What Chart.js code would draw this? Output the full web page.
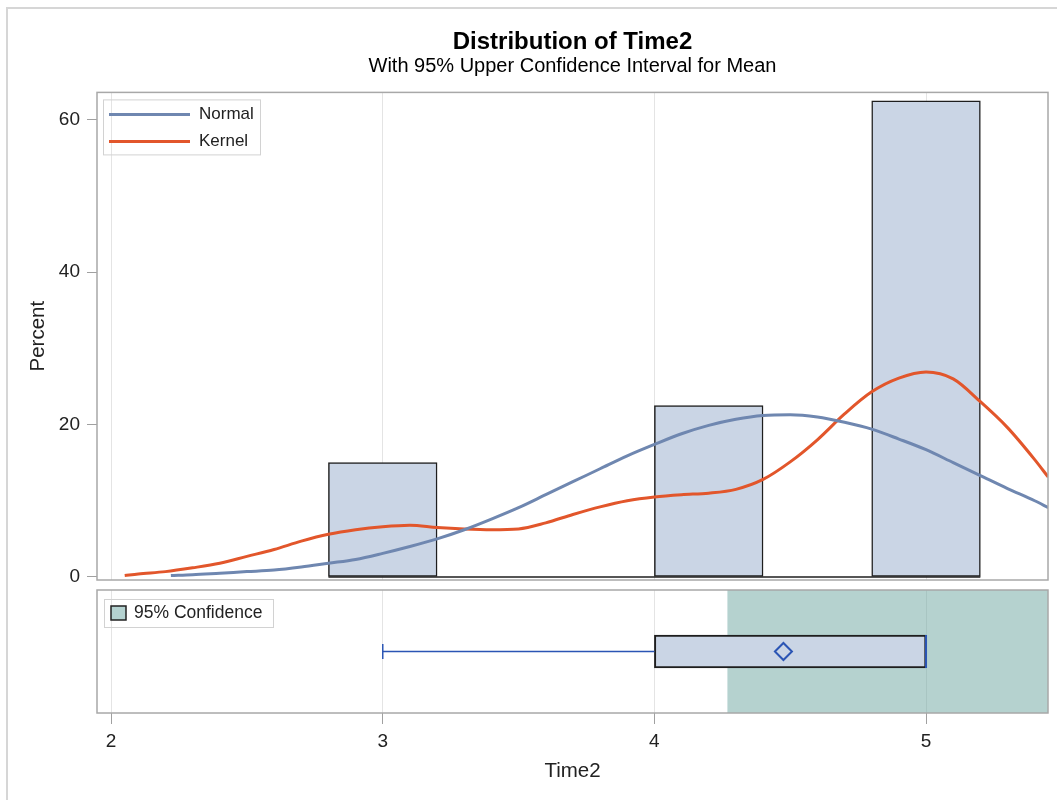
<!DOCTYPE html>
<html>
<head>
<meta charset="utf-8">
<title>Distribution of Time2</title>
<script src="https://cdn.jsdelivr.net/npm/chart.js@4.4.1/dist/chart.umd.min.js"></script>
<style>
  html, body { margin: 0; padding: 0; background: #fff; }
  #wrap { position: relative; width: 1057px; height: 800px; overflow: hidden; }
  #outline { position: absolute; left: 6px; top: 7px; width: 1200px; height: 900px;
             border-top: 2px solid #d6d6d6; border-left: 2px solid #d6d6d6; }
  canvas { position: absolute; left: 0; top: 0; }
</style>
</head>
<body>
<div id="wrap">
  <div id="outline"></div>
  <canvas id="hist" width="1057" height="800"></canvas>
  <canvas id="box" width="1057" height="800"></canvas>
</div>
<script>
// histogram bins (midpoints, width 0.4) and percents
const binCenters = [3.0, 3.4, 3.8, 4.2, 4.6, 5.0]
const binPercents = [15, 0, 0, 22.5, 0, 62.5]
const binWidth = 0.4

// fitted normal curve
const normalX = [2.22, 2.3, 2.4, 2.5, 2.6, 2.7, 2.8, 2.9, 3.0, 3.1, 3.2, 3.3, 3.4, 3.5, 3.6, 3.7, 3.8, 3.9,
                 4.0, 4.1, 4.2, 4.3, 4.4, 4.5, 4.6, 4.7, 4.8, 4.9, 5.0, 5.1, 5.2, 5.3, 5.4, 5.45]
const normalY = [0.2, 0.3, 0.5, 0.7, 0.9, 1.3, 1.8, 2.3, 3.1, 4.0, 5.0, 6.2, 7.6, 9.1, 10.8, 12.5, 14.2, 15.9,
                 17.4, 18.8, 19.9, 20.7, 21.2, 21.3, 21.0, 20.3, 19.4, 18.1, 16.7, 15.0, 13.3, 11.6, 10.0, 9.1]

// kernel density curve
const kernelX = [2.05, 2.1, 2.2, 2.3, 2.4, 2.5, 2.6, 2.7, 2.8, 2.9, 3.0, 3.1, 3.2, 3.3, 3.4, 3.5, 3.6, 3.7, 3.8,
                 3.9, 4.0, 4.1, 4.2, 4.3, 4.4, 4.5, 4.6, 4.7, 4.8, 4.9, 5.0, 5.1, 5.2, 5.3, 5.4, 5.45]
const kernelY = [0.2, 0.4, 0.7, 1.2, 1.8, 2.7, 3.6, 4.7, 5.6, 6.2, 6.6, 6.8, 6.5, 6.3, 6.2, 6.3, 7.1, 8.2, 9.2,
                 10.0, 10.5, 10.8, 11.0, 11.5, 12.8, 15.1, 18.0, 21.4, 24.3, 26.1, 26.9, 26.0, 23.0, 19.6, 15.4, 13.1]

// box plot summary and one-sided 95% confidence limit for the mean
const boxMin = 3
const boxQ1 = 4
const boxMedian = 5
const boxQ3 = 5
const boxMax = 5
const boxMean = 4.475
const ciLower = 4.27

const xMin = 1.948
const xMax = 5.449
const yMin = -0.4
const yMax = 63.6
const xTicks = [2, 3, 4, 5]
const yTicks = [0, 20, 40, 60]

const normalColor = '#6f87b0'
const kernelColor = '#e2562b'
const barFill = '#cad5e5'
const boxBlue = '#2b55b4'
const ciFill = 'rgba(108,165,160,0.5)'
const FONT = '"Liberation Sans", Arial, sans-serif'

Chart.defaults.font.family = FONT
Chart.defaults.color = '#222'

const setTicks = list => scale => { scale.ticks = list.map(v => ({ value: v })) }

const framePlugin = {
    id: 'frame',
    afterDraw(chart) {
        const { ctx, chartArea: a } = chart
        ctx.save()
        ctx.strokeStyle = '#a8a8a8'
        ctx.lineWidth = 1.5
        ctx.strokeRect(a.left, a.top, a.right - a.left, a.bottom - a.top)
        ctx.restore()
    }
}

const histLegend = {
    id: 'histLegend',
    afterDraw(chart) {
        const { ctx, chartArea: a } = chart
        const x = a.left + 6, y = a.top + 7
        const items = chart.data.datasets.filter(d => d.inLegend)
        ctx.save()
        ctx.strokeStyle = '#d2d2d2'
        ctx.lineWidth = 1
        ctx.strokeRect(x + 0.5, y + 0.5, 157, 55)
        items.forEach((d, i) => {
            const ly = y + 15 + i * 27
            ctx.strokeStyle = d.borderColor
            ctx.lineWidth = 3
            ctx.beginPath()
            ctx.moveTo(x + 6, ly)
            ctx.lineTo(x + 87, ly)
            ctx.stroke()
            ctx.fillStyle = '#222'
            ctx.font = '17px ' + FONT
            ctx.textBaseline = 'middle'
            ctx.fillText(d.label, x + 96, ly)
        })
        ctx.restore()
    }
}

const boxLegend = {
    id: 'boxLegend',
    afterDraw(chart) {
        const { ctx, chartArea: a } = chart
        const x = a.left + 7, y = a.top + 9
        ctx.save()
        ctx.strokeStyle = '#d2d2d2'
        ctx.lineWidth = 1
        ctx.strokeRect(x + 0.5, y + 0.5, 169, 28)
        ctx.fillStyle = '#b4d2d0'
        ctx.fillRect(x + 7, y + 7, 15, 14)
        ctx.strokeStyle = '#222'
        ctx.lineWidth = 1.5
        ctx.strokeRect(x + 7, y + 7, 15, 14)
        ctx.fillStyle = '#222'
        ctx.font = '17.5px ' + FONT
        ctx.textBaseline = 'middle'
        ctx.fillText('95% Confidence', x + 30, y + 14.5)
        ctx.restore()
    }
}

// upper panel: histogram + normal and kernel curves
new Chart(document.getElementById('hist'), {
    type: 'bar',
    data: {
        datasets: [
            {
                type: 'line', label: 'Normal', inLegend: true,
                data: normalX.map((x, i) => ({ x, y: normalY[i] })),
                borderColor: normalColor, borderWidth: 3, pointRadius: 0,
                cubicInterpolationMode: 'monotone', order: 1
            },
            {
                type: 'line', label: 'Kernel', inLegend: true,
                data: kernelX.map((x, i) => ({ x, y: kernelY[i] })),
                borderColor: kernelColor, borderWidth: 3, pointRadius: 0,
                cubicInterpolationMode: 'monotone', order: 2
            },
            {
                // outline of the empty bins along zero
                type: 'line', label: 'base',
                data: [
                    { x: binCenters[0] - binWidth / 2, y: 0 },
                    { x: binCenters[binCenters.length - 1] + binWidth / 2, y: 0 }
                ],
                borderColor: '#1e1e1e', borderWidth: 1.5, pointRadius: 0, order: 3
            },
            {
                type: 'bar', label: 'Percent',
                data: binCenters.map((x, i) => ({ x, y: binPercents[i] })),
                backgroundColor: barFill, borderColor: '#1e1e1e', borderWidth: 1.5,
                borderSkipped: false, barPercentage: 1, categoryPercentage: 1, order: 4
            }
        ]
    },
    options: {
        responsive: false,
        animation: false,
        events: [],
        layout: { autoPadding: false, padding: { top: 0, left: 0, right: 9, bottom: 220 } },
        plugins: {
            legend: { display: false },
            tooltip: { enabled: false },
            title: {
                display: true, fullSize: false, text: 'Distribution of Time2', color: '#000',
                font: { size: 24, weight: 'bold', lineHeight: 1.1 }, padding: { top: 29, bottom: 0 }
            },
            subtitle: {
                display: true, fullSize: false, text: 'With 95% Upper Confidence Interval for Mean', color: '#000',
                font: { size: 20, lineHeight: 1.15 }, padding: { top: 0, bottom: 14 }
            }
        },
        scales: {
            x: {
                type: 'linear', min: xMin, max: xMax, offset: false,
                afterBuildTicks: setTicks(xTicks),
                afterFit: s => { s.height = 0; s.paddingLeft = 0; s.paddingRight = 0 },
                grid: { color: '#e4e4e4', drawTicks: false, offset: false },
                border: { display: false },
                ticks: { display: false }
            },
            y: {
                type: 'linear', min: yMin, max: yMax,
                afterBuildTicks: setTicks(yTicks),
                afterFit: s => { s.width = 97; s.paddingTop = 0; s.paddingBottom = 0 },
                grid: { drawOnChartArea: false, tickLength: 10, color: '#a0a0a0' },
                border: { display: false },
                ticks: { padding: 7, color: '#222', font: { size: 19 } },
                title: { display: true, text: 'Percent', color: '#222', font: { size: 20.5 }, padding: { top: 26 } }
            }
        }
    },
    plugins: [framePlugin, histLegend]
})

// lower panel: box plot with the confidence band
new Chart(document.getElementById('box'), {
    type: 'bar',
    data: {
        labels: ['Time2'],
        datasets: [
            {
                type: 'line', label: 'mean', showLine: false,
                data: [{ x: boxMean, y: 'Time2' }],
                pointStyle: 'rectRot', pointRadius: 8.5, pointBorderWidth: 2,
                pointBorderColor: boxBlue, pointBackgroundColor: 'rgba(0,0,0,0)', order: 1
            },
            {
                type: 'line', label: 'median', showLine: false,
                data: [{ x: boxMedian, y: 'Time2' }],
                pointStyle: 'line', pointRotation: 90, pointRadius: 16.5, pointBorderWidth: 2,
                pointBorderColor: boxBlue, order: 2
            },
            {
                type: 'line', label: 'whisker',
                data: [{ x: boxMin, y: 'Time2' }, { x: boxQ1, y: 'Time2' }, { x: boxQ3, y: 'Time2' }, { x: boxMax, y: 'Time2' }],
                segment: { borderColor: c => c.p0DataIndex === 1 ? 'rgba(0,0,0,0)' : boxBlue },
                borderColor: boxBlue, borderWidth: 1.5,
                pointStyle: 'line', pointRotation: 90, pointRadius: [7.5, 0, 0, 7.5], pointBorderWidth: 1.5,
                pointBorderColor: boxBlue, order: 3
            },
            {
                type: 'bar', label: 'box', indexAxis: 'y', grouped: false,
                data: [{ x: [boxQ1, boxQ3], y: 'Time2' }],
                backgroundColor: barFill, borderColor: '#1e1e1e', borderWidth: 2,
                borderSkipped: false, barThickness: 33, order: 4
            },
            {
                type: 'bar', label: '95% Confidence', indexAxis: 'y', grouped: false,
                data: [{ x: [ciLower, xMax], y: 'Time2' }],
                backgroundColor: ciFill, borderWidth: 0,
                barPercentage: 1, categoryPercentage: 1, order: 5
            }
        ]
    },
    options: {
        responsive: false,
        animation: false,
        events: [],
        layout: { autoPadding: false, padding: { top: 590, left: 97, right: 9, bottom: 0 } },
        plugins: {
            legend: { display: false },
            tooltip: { enabled: false }
        },
        scales: {
            x: {
                type: 'linear', min: xMin, max: xMax, offset: false,
                afterBuildTicks: setTicks(xTicks),
                afterFit: s => { s.height = 87; s.paddingLeft = 0; s.paddingRight = 0 },
                grid: { color: '#e4e4e4', tickColor: '#a0a0a0', tickLength: 11, offset: false },
                border: { display: false },
                ticks: { padding: 6, color: '#222', font: { size: 19 } },
                title: { display: true, text: 'Time2', color: '#222', font: { size: 20.5 }, padding: { top: 0, bottom: 16.7 } }
            },
            y: {
                type: 'category', offset: true, display: false
            }
        }
    },
    plugins: [framePlugin, boxLegend]
})
</script>
</body>
</html>
